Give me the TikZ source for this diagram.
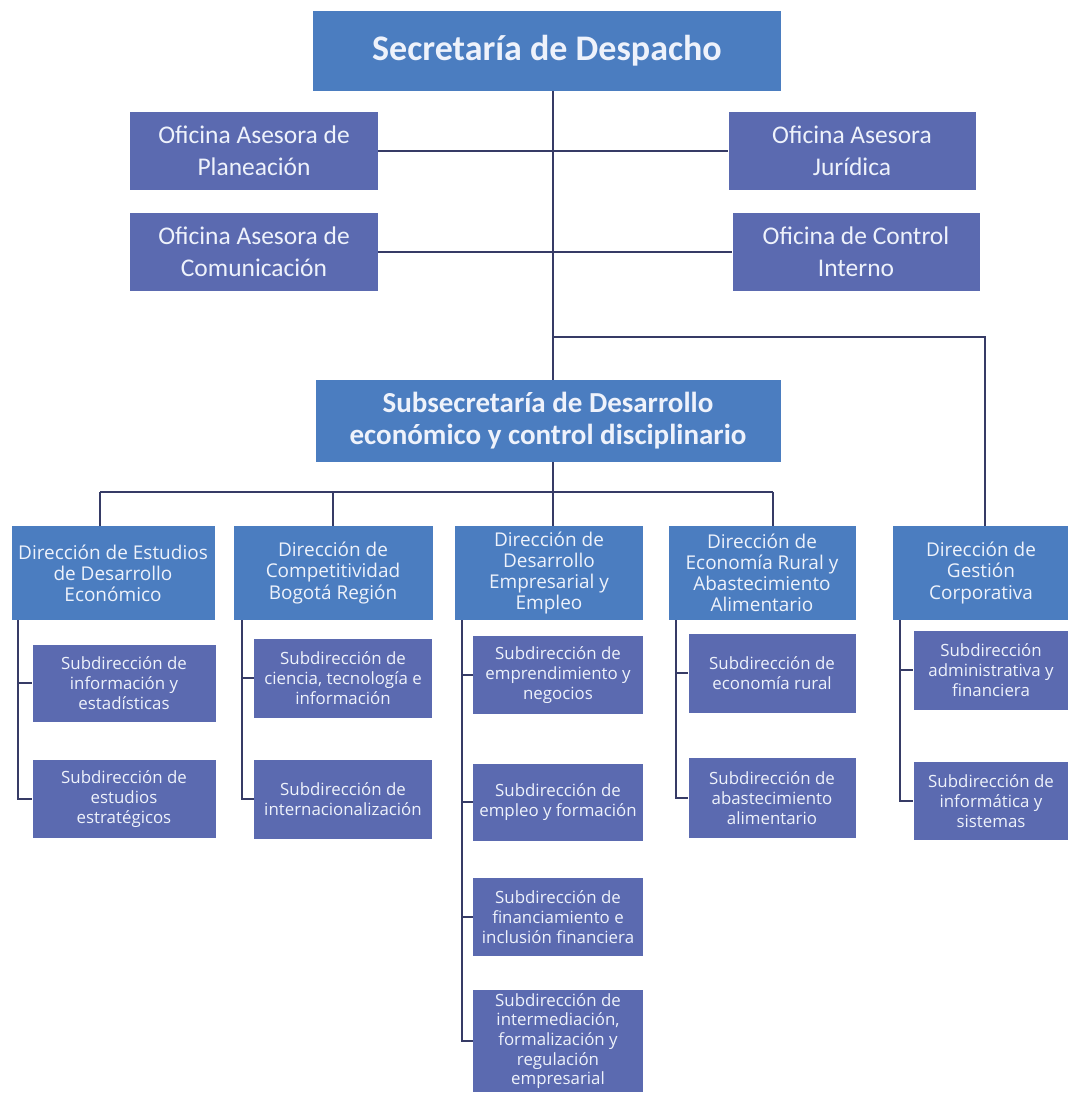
\documentclass[tikz,border=0pt]{standalone}
\usepackage{fontspec}
\setmainfont{Open Sans}
\newfontfamily\carlito{Carlito}
\usetikzlibrary{positioning}

\definecolor{dirblue}{HTML}{4B7DC0}
\definecolor{subblue}{HTML}{5B6AB0}
\definecolor{linkcol}{HTML}{363B66}
\definecolor{boxtext}{HTML}{EEF2FB}

\tikzset{
  box/.style={draw=none, inner sep=0pt, align=center, text=boxtext},
  boxsize/.style 2 args={minimum width=#1*0.02cm, minimum height=#2*0.02cm},
  headbox/.style={box, fill=dirblue, font=\carlito\bfseries\fontsize{20.5}{23}\selectfont},
  subsecbox/.style={box, fill=dirblue, font=\carlito\bfseries\fontsize{16.5}{18.2}\selectfont},
  officebox/.style={box, fill=subblue, font=\carlito\fontsize{14.5}{18.2}\selectfont},
  dirbox/.style={box, fill=dirblue, font=\fontsize{10.8}{12}\selectfont},
  subdirbox/.style={box, fill=subblue, font=\fontsize{9.6}{11.2}\selectfont},
  link/.style={draw=linkcol, line width=1.4pt}
}

\begin{document}
\begin{tikzpicture}[x=0.02cm, y=-0.02cm]
\useasboundingbox (0,0) rectangle (1068,1099);

% secretaria y oficinas asesoras
\node[headbox, boxsize={468}{80}] (sec) at (547,51) {Secretaría de Despacho};
\node[officebox, boxsize={248}{78}] (plan) at (254,151) {Oficina Asesora de\\Planeación};
\node[officebox, boxsize={247}{78}] (jur) at (852,151) {Oficina Asesora\\Jurídica};
\node[officebox, boxsize={248}{78}] (com) at (254,252) {Oficina Asesora de\\Comunicación};
\node[officebox, boxsize={247}{78}] (ci) at (856,252) {Oficina de Control\\Interno};

% subsecretaria
\node[subsecbox, boxsize={465}{82}] (sub) at (548,421) {Subsecretaría de Desarrollo\\económico y control disciplinario};

% direcciones
\node[dirbox, boxsize={203}{94}] (dee) at (113,573) {Dirección de Estudios\\de Desarrollo\\Económico};
\node[dirbox, boxsize={199}{94}] (dcb) at (333,573) {Dirección de\\Competitividad\\Bogotá Región};
\node[dirbox, boxsize={188}{94}] (dde) at (549,573) {Dirección de\\Desarrollo\\Empresarial y\\Empleo};
\node[dirbox, boxsize={187}{94}] (der) at (762,573) {Dirección de\\Economía Rural y\\Abastecimiento\\Alimentario};
\node[dirbox, boxsize={176}{94}] (dgc) at (981,573) {Dirección de\\Gestión\\Corporativa};

% subdirecciones
\node[subdirbox, boxsize={183}{77}] (s11) at (124,683) {Subdirección de\\información y\\estadísticas};
\node[subdirbox, boxsize={183}{78}] (s12) at (124,799) {Subdirección de\\estudios\\estratégicos};
\node[subdirbox, boxsize={178}{79}] (s21) at (343,678) {Subdirección de\\ciencia, tecnología e\\información};
\node[subdirbox, boxsize={178}{79}] (s22) at (343,799) {Subdirección de\\internacionalización};
\node[subdirbox, boxsize={170}{78}] (s31) at (558,675) {Subdirección de\\emprendimiento y\\negocios};
\node[subdirbox, boxsize={170}{77}] (s32) at (558,802) {Subdirección de\\empleo y formación};
\node[subdirbox, boxsize={170}{78}] (s33) at (558,917) {Subdirección de\\financiamiento e\\inclusión financiera};
\node[subdirbox, boxsize={170}{102}] (s34) at (558,1041) {Subdirección de\\intermediación,\\formalización y\\regulación\\empresarial};
\node[subdirbox, boxsize={167}{79}] (s41) at (772,673) {Subdirección de\\economía rural};
\node[subdirbox, boxsize={167}{80}] (s42) at (772,798) {Subdirección de\\abastecimiento\\alimentario};
\node[subdirbox, boxsize={155}{79}] (s51) at (991,670) {Subdirección\\administrativa y\\financiera};
\node[subdirbox, boxsize={155}{78}] (s52) at (991,801) {Subdirección de\\informática y\\sistemas};

% lineas de mando
\coordinate (spine) at (553,337);
\coordinate (gc) at (985,337);
\draw[link] (sec.south -| spine) -- (sub.north -| spine);
\draw[link] (plan.east) -- (jur.west);
\draw[link] (com.east) -- (ci.west);
\draw[link] (spine) -- (gc) -- (gc |- dgc.north);

\coordinate (bus) at (553,492);
\draw[link] (sub.south -| bus) -- (bus);
\foreach \x/\n in {100/dee,333/dcb,553/dde,773/der} {
  \coordinate (top-\n) at (\x,492);
  \draw[link] (top-\n) -- (top-\n |- \n.north);
}
\draw[link] (top-dee) -- (top-der);

% ramas de las subdirecciones
\foreach \x/\n/\last in {18/dee/s12, 242/dcb/s22, 462/dde/s34, 676/der/s42, 900/dgc/s52} {
  \coordinate (sp-\n) at (\x,0);
  \draw[link] (sp-\n |- \n.south) |- (\last.west);
}
\foreach \s/\n in {s11/dee, s21/dcb, s31/dde, s32/dde, s33/dde, s41/der, s51/dgc}
  \draw[link] (sp-\n |- \s.west) -- (\s.west);

\end{tikzpicture}
\end{document}
